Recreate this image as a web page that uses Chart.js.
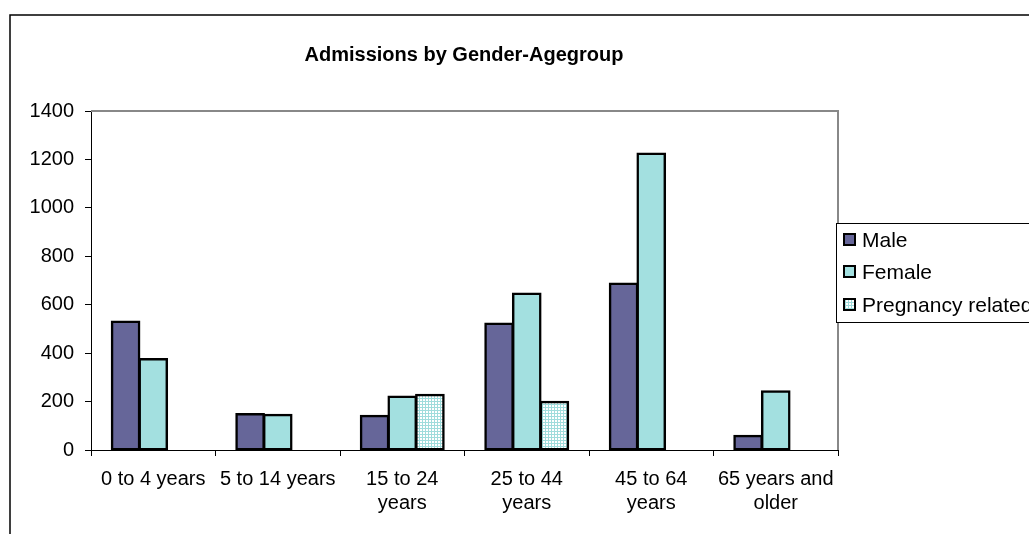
<!DOCTYPE html>
<html>
<head>
<meta charset="utf-8">
<title>Admissions by Gender-Agegroup</title>
<script src="https://cdn.jsdelivr.net/npm/chart.js@4.4.1/dist/chart.umd.min.js"></script>
<style>
  html, body { margin: 0; padding: 0; background: #fff; }
  #wrap { position: relative; width: 1029px; height: 534px; overflow: hidden; }
  canvas { display: block; }
</style>
</head>
<body>
<div id="wrap"><canvas id="chart" width="1029" height="534"></canvas></div>
<script>
// Age groups on the category axis (multi-line where the label wraps)
const ageGroups = [
  '0 to 4 years',
  '5 to 14 years',
  ['15 to 24', 'years'],
  ['25 to 44', 'years'],
  ['45 to 64', 'years'],
  ['65 years and', 'older']
];

// Admissions per age group
const maleAdmissions      = [531, 149, 141, 522, 688, 59];
const femaleAdmissions    = [376, 146, 221, 646, 1225, 243];
const pregnancyAdmissions = [null, null, 228, 199, null, null];

// Value axis
const yMin = 0;
const yMax = 1400;
const yStep = 200;

const chartTitle = 'Admissions by Gender-Agegroup';
const FONT = '"Liberation Sans", Arial, Helvetica, sans-serif';

// Fine check pattern used for the pregnancy-related bars
function checkPattern() {
  const c = document.createElement('canvas');
  c.width = 3; c.height = 3;
  const g = c.getContext('2d');
  g.fillStyle = '#9fdcdc';
  g.fillRect(0, 0, 3, 3);
  g.fillStyle = '#ffffff';
  g.fillRect(0, 0, 2, 2);
  return g.createPattern(c, 'repeat');
}
const ctx = document.getElementById('chart').getContext('2d');
const pregnancyFill = checkPattern();

// Outer frame, title, plot frame and legend
const decorations = {
  id: 'decorations',
  beforeDatasetsDraw(chart) {
    const { ctx, chartArea: a } = chart;
    ctx.save();
    ctx.strokeStyle = '#888888';
    ctx.lineWidth = 2;
    ctx.beginPath();
    ctx.moveTo(a.left, a.top);
    ctx.lineTo(a.right, a.top);
    ctx.lineTo(a.right, a.bottom);
    ctx.stroke();
    ctx.restore();
  },
  afterDraw(chart) {
    const { ctx } = chart;
    ctx.save();
    // outer chart border
    ctx.strokeStyle = '#000000';
    ctx.lineWidth = 1.5;
    ctx.beginPath();
    ctx.moveTo(10, 534);
    ctx.lineTo(10, 15);
    ctx.lineTo(1029, 15);
    ctx.stroke();

    // title
    ctx.fillStyle = '#000';
    ctx.font = 'bold 20px ' + FONT;
    ctx.textAlign = 'center';
    ctx.textBaseline = 'middle';
    ctx.fillText(chartTitle, 464, 55);

    // legend box
    const lx = 836, ly = 223, lw = 200, lh = 99;
    ctx.fillStyle = '#fff';
    ctx.fillRect(lx, ly, lw, lh);
    ctx.strokeStyle = '#000';
    ctx.lineWidth = 1;
    ctx.strokeRect(lx + 0.5, ly + 0.5, lw, lh);

    const rows = [240, 272, 305];
    ctx.font = '21px ' + FONT;
    ctx.textAlign = 'left';
    chart.data.datasets.forEach((ds, i) => {
      const y = rows[i];
      ctx.fillStyle = ds.backgroundColor;
      ctx.fillRect(843, y - 7, 13, 13);
      ctx.strokeStyle = '#000';
      ctx.lineWidth = 2;
      ctx.strokeRect(844, y - 6, 11, 11);
      ctx.fillStyle = '#000';
      ctx.fillText(ds.label, 862, y + 1);
    });
    ctx.restore();
  }
};

new Chart(ctx, {
  type: 'bar',
  data: {
    labels: ageGroups,
    datasets: [
      { label: 'Male', data: maleAdmissions, backgroundColor: '#666699' },
      { label: 'Female', data: femaleAdmissions, backgroundColor: '#a3e0e0' },
      { label: 'Pregnancy related', data: pregnancyAdmissions, backgroundColor: pregnancyFill }
    ]
  },
  options: {
    responsive: false,
    animation: false,
    devicePixelRatio: 1,
    layout: { padding: { top: 111, right: 191, left: 0, bottom: 0 } },
    datasets: {
      bar: {
        categoryPercentage: 3 / 4.5,
        barPercentage: 1,
        borderColor: '#000',
        borderWidth: 2.5,
        borderSkipped: false,
        inflateAmount: 1
      }
    },
    plugins: {
      legend: { display: false },
      title: { display: false },
      tooltip: { enabled: false }
    },
    scales: {
      x: {
        afterFit(s) { s.height = 84; },
        grid: {
          offset: true,
          drawOnChartArea: false,
          drawTicks: true,
          tickLength: 6,
          color: '#000'
        },
        border: { color: '#000', width: 1 },
        ticks: {
          color: '#000',
          font: { family: FONT, size: 20, lineHeight: 1.2 },
          padding: 11,
          maxRotation: 0,
          autoSkip: false
        }
      },
      y: {
        min: yMin,
        max: yMax,
        afterFit(s) { s.width = 91; },
        grid: {
          drawOnChartArea: false,
          drawTicks: true,
          tickLength: 6,
          color: '#000'
        },
        border: { color: '#000', width: 1 },
        ticks: {
          stepSize: yStep,
          color: '#000',
          font: { family: FONT, size: 20 },
          padding: 11,
          callback: (v) => String(v)
        }
      }
    }
  },
  plugins: [decorations]
});
</script>
</body>
</html>
